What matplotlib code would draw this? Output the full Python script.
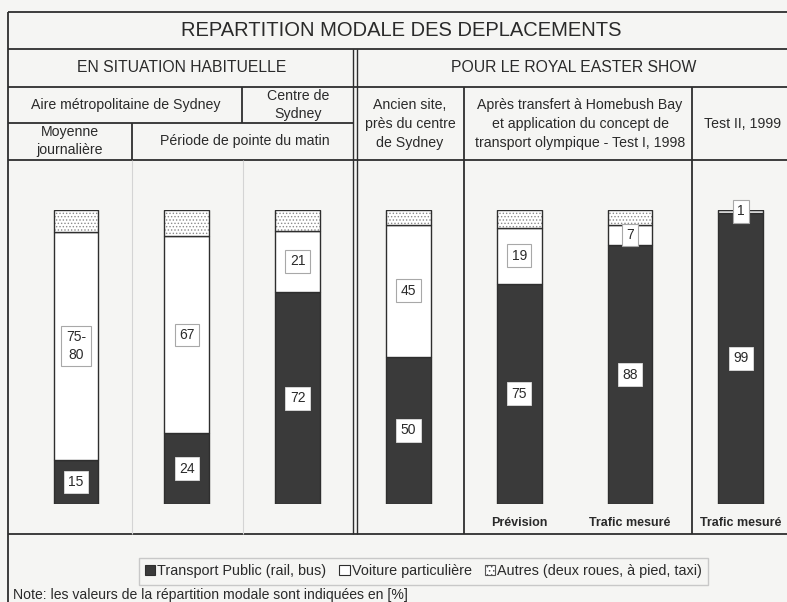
import matplotlib.pyplot as plt
from matplotlib.patches import Patch

plt.rcParams['font.family'] = ['Liberation Sans', 'DejaVu Sans']
plt.rcParams['hatch.linewidth'] = 0.6

# modal split values in %
transport = [15, 24, 72, 50, 75, 88, 99]
voiture = [77.5, 67, 21, 45, 19, 7, 1]
autres = [7.5, 9, 7, 5, 6, 5, 0]
transport_labels = ['15', '24', '72', '50', '75', '88', '99']
voiture_labels = ['75-\n80', '67', '21', '45', '19', '7', '1']
bar_notes = ['', '', '', '', 'Prévision', 'Trafic mesuré', 'Trafic mesuré']
legend_labels = ['Transport Public (rail, bus)', 'Voiture particulière',
                 'Autres (deux roues, à pied, taxi)']

title = 'REPARTITION MODALE DES DEPLACEMENTS'
group_left = 'EN SITUATION HABITUELLE'
group_right = 'POUR LE ROYAL EASTER SHOW'
note = 'Note: les valeurs de la répartition modale sont indiquées en [%]'

BG = '#f5f5f3'
DARK = '#3a3a3a'
LINE = '#2e2e2e'
TXT = '#2a2a2a'

W, H = 787, 602
fig = plt.figure(figsize=(W / 100, H / 100), dpi=100, facecolor=BG)

# frame / table drawn in pixel units
ax0 = fig.add_axes([0, 0, 1, 1])
ax0.set_xlim(0, W)
ax0.set_ylim(H, 0)
ax0.axis('off')


def hline(y, x1, x2, c=LINE, lw=1.3):
    ax0.plot([x1, x2], [y, y], color=c, lw=lw, solid_capstyle='butt')


def vline(x, y1, y2, c=LINE, lw=1.3):
    ax0.plot([x, x], [y1, y2], color=c, lw=lw, solid_capstyle='butt')


vline(8, 12, H)
for y in [12, 49, 87, 160, 534]:
    hline(y, 8, W)
hline(123, 8, 354)
vline(353, 49, 534, lw=1.0)
vline(357, 49, 534, lw=1.0)
vline(242, 87, 123)
vline(132, 123, 160)
vline(132, 160, 534, c='#d4d4d4', lw=0.8)
vline(243, 160, 534, c='#d4d4d4', lw=0.8)
vline(464, 87, 534)
vline(692, 87, 534)

ax0.text(401, 31, title, ha='center', va='center', fontsize=14.5, color=TXT)
ax0.text(182, 68, group_left, ha='center', va='center', fontsize=11.3, color=TXT)
ax0.text(574, 68, group_right, ha='center', va='center', fontsize=11.3, color=TXT)
cells = [
    (126, 105, 'Aire métropolitaine de Sydney'),
    (298, 105, 'Centre de\nSydney'),
    (70, 141, 'Moyenne\njournalière'),
    (245, 141, 'Période de pointe du matin'),
    (410, 124, 'Ancien site,\nprès du centre\nde Sydney'),
    (580, 124, 'Après transfert à Homebush Bay\net application du concept de\ntransport olympique - Test I, 1998'),
    (743, 124, 'Test II, 1999'),
]
for x, y, s in cells:
    ax0.text(x, y, s, ha='center', va='center', fontsize=10.2, color=TXT,
             linespacing=1.45)
ax0.text(13, 595, note, ha='left', va='center', fontsize=10.1, color=TXT)

# bars
ax = fig.add_axes([10 / W, (H - 504) / H, 777 / W, 294 / H])
ax.set_xlim(-0.5957, 6.417)
ax.set_ylim(0, 100)
ax.axis('off')
ax.patch.set_alpha(0)

x = list(range(len(transport)))
bw = 0.405
base2 = [t + v for t, v in zip(transport, voiture)]
b1 = ax.bar(x, transport, bw, color=DARK, edgecolor=LINE, lw=1.0)
b2 = ax.bar(x, voiture, bw, bottom=transport, color='white', edgecolor=LINE, lw=1.0)
b3 = ax.bar(x, autres, bw, bottom=base2, color='white', edgecolor='#8a8a8a',
            hatch='.....', lw=0)
ax.bar(x, autres, bw, bottom=base2, color='none', edgecolor=LINE, lw=1.0)

for i in x:
    ax.text(i, transport[i] / 2, transport_labels[i], ha='center', va='center',
            fontsize=10, color=TXT,
            bbox=dict(boxstyle='square,pad=0.32', fc='white', ec='#dddddd', lw=0.6))
    ax.text(i, transport[i] + voiture[i] / 2, voiture_labels[i], ha='center',
            va='center', fontsize=10, color=TXT, linespacing=1.3,
            bbox=dict(boxstyle='square,pad=0.32', fc='white', ec='#a8a8a8', lw=0.8))
    if bar_notes[i]:
        ax.text(i, -6.5, bar_notes[i], ha='center', va='center', fontsize=9,
                fontweight='bold', color=TXT)

handles = [Patch(fc=DARK, ec=LINE, lw=0.8),
           Patch(fc='white', ec=LINE, lw=0.8),
           Patch(fc='white', ec='#555555', hatch='....', lw=0.8)]
fig.legend(handles, legend_labels, loc='center', ncol=3,
           bbox_to_anchor=(423.5 / W, 1 - 571 / H), frameon=True, fancybox=False,
           edgecolor='#c8c8c8', facecolor=BG, framealpha=1, fontsize=10.4,
           handlelength=0.7, handleheight=0.7, handletextpad=0.15,
           columnspacing=0.9, borderpad=0.45, labelcolor=TXT)

fig.savefig('out.png', dpi=100, facecolor=BG)
